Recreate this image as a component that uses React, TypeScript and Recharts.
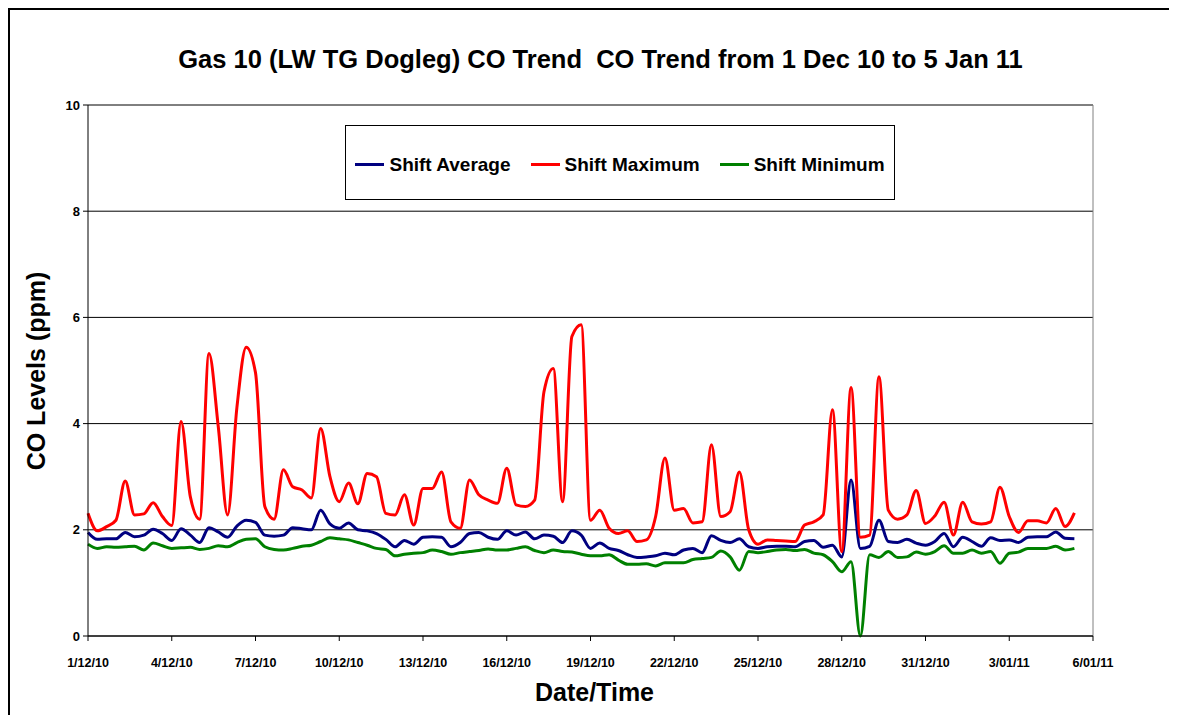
import { CartesianGrid, Line, LineChart, ReferenceLine, XAxis, YAxis } from 'recharts'

// one reading per 8-hour shift, starting 1/12/10
const shiftAverage = [
  1.95, 1.82, 1.83, 1.83, 1.95, 1.87, 1.9, 2.01, 1.93, 1.8, 2.02, 1.9, 1.76, 2.04, 1.96, 1.86, 2.07, 2.18,
  2.14, 1.9, 1.88, 1.9, 2.04, 2.02, 2.0, 2.37, 2.11, 2.03, 2.13, 2.0, 1.98, 1.93, 1.82, 1.68, 1.8, 1.73,
  1.86, 1.87, 1.86, 1.68, 1.76, 1.93, 1.95, 1.86, 1.82, 1.98, 1.9, 1.96, 1.83, 1.9, 1.88, 1.76, 1.98, 1.9,
  1.65, 1.75, 1.65, 1.61, 1.53, 1.48, 1.49, 1.51, 1.56, 1.53, 1.62, 1.65, 1.57, 1.89, 1.8, 1.76, 1.83, 1.68,
  1.65, 1.68, 1.69, 1.69, 1.68, 1.78, 1.8, 1.67, 1.71, 1.49, 2.94, 1.65, 1.69, 2.18, 1.78, 1.76, 1.82, 1.75,
  1.71, 1.78, 1.93, 1.68, 1.86, 1.78, 1.69, 1.85, 1.8, 1.81, 1.76, 1.86, 1.87, 1.87, 1.96, 1.84, 1.83,
]

const shiftMaximum = [
  2.31, 1.98, 2.06, 2.18, 2.92, 2.28, 2.3, 2.51, 2.25, 2.08, 4.04, 2.62, 2.2, 5.32, 3.94, 2.28, 4.3, 5.44,
  4.96, 2.44, 2.2, 3.13, 2.81, 2.75, 2.6, 3.91, 3.0, 2.53, 2.88, 2.49, 3.06, 3.0, 2.31, 2.28, 2.66, 2.09,
  2.78, 2.78, 3.09, 2.15, 2.03, 2.94, 2.66, 2.56, 2.5, 3.16, 2.47, 2.44, 2.56, 4.6, 5.04, 2.53, 5.64, 5.86,
  2.18, 2.37, 2.03, 1.93, 1.98, 1.78, 1.81, 2.25, 3.35, 2.37, 2.4, 2.13, 2.15, 3.6, 2.25, 2.34, 3.09, 2.0,
  1.73, 1.81, 1.8, 1.79, 1.78, 2.09, 2.15, 2.28, 4.26, 1.59, 4.68, 1.86, 1.9, 4.88, 2.37, 2.2, 2.28, 2.74,
  2.12, 2.26, 2.52, 1.9, 2.52, 2.15, 2.11, 2.15, 2.8, 2.25, 1.95, 2.17, 2.17, 2.13, 2.4, 2.06, 2.32,
]

const shiftMinimum = [
  1.73, 1.65, 1.68, 1.67, 1.68, 1.69, 1.62, 1.75, 1.7, 1.65, 1.66, 1.67, 1.63, 1.65, 1.7, 1.68, 1.76, 1.82,
  1.83, 1.68, 1.63, 1.62, 1.65, 1.69, 1.71, 1.78, 1.85, 1.83, 1.81, 1.76, 1.71, 1.65, 1.63, 1.51, 1.54, 1.56,
  1.57, 1.62, 1.59, 1.54, 1.57, 1.59, 1.61, 1.64, 1.62, 1.62, 1.65, 1.68, 1.61, 1.57, 1.62, 1.59, 1.58, 1.54,
  1.51, 1.51, 1.53, 1.43, 1.35, 1.35, 1.36, 1.32, 1.38, 1.38, 1.38, 1.44, 1.46, 1.48, 1.6, 1.49, 1.24, 1.59,
  1.57, 1.59, 1.62, 1.63, 1.61, 1.63, 1.56, 1.53, 1.4, 1.21, 1.4, 0.0, 1.53, 1.48, 1.59, 1.48, 1.49, 1.58,
  1.54, 1.59, 1.7, 1.56, 1.56, 1.62, 1.56, 1.59, 1.37, 1.56, 1.58, 1.65, 1.65, 1.65, 1.69, 1.62, 1.65,
]

// tick every 3 days = every 9 shifts
const dateLabels = [
  '1/12/10', '4/12/10', '7/12/10', '10/12/10', '13/12/10', '16/12/10', '19/12/10',
  '22/12/10', '25/12/10', '28/12/10', '31/12/10', '3/01/11', '6/01/11',
]
const xTicks = dateLabels.map((_, k) => k * 9)
const yTicks = [0, 2, 4, 6, 8, 10]

const rows = shiftAverage.map((avg, i) => ({
  shift: i,
  avg,
  max: shiftMaximum[i],
  min: shiftMinimum[i],
}))

const legendItems = [
  { name: 'Shift Average', color: '#000080' },
  { name: 'Shift Maximum', color: '#FF0000' },
  { name: 'Shift Minimum', color: '#008000' },
]

const font = '"Liberation Sans", Arial, sans-serif'

function App() {
  return (
    <div
      style={{
        position: 'relative',
        width: 1165,
        height: 707,
        boxSizing: 'border-box',
        border: '2px solid #000',
        borderBottom: 'none',
        fontFamily: font,
        background: '#fff',
        overflow: 'hidden',
      }}
    >
      <div
        style={{
          position: 'absolute',
          left: 10,
          top: 35,
          width: 1161,
          textAlign: 'center',
          fontSize: 25.5,
          lineHeight: '28px',
          fontWeight: 'bold',
          whiteSpace: 'pre',
        }}
      >
        {'Gas 10 (LW TG Dogleg) CO Trend  CO Trend from 1 Dec 10 to 5 Jan 11'}
      </div>

      <LineChart
        width={1161}
        height={697}
        data={rows}
        margin={{ top: 95, right: 78, bottom: 41, left: 0 }}
        style={{ position: 'absolute', left: 0, top: 0 }}
      >
        <CartesianGrid horizontal vertical={false} stroke="#000" />
        <XAxis
          dataKey="shift"
          type="number"
          domain={[0, 108]}
          ticks={xTicks}
          interval={0}
          tickFormatter={(v: number) => dateLabels[v / 9]}
          height={30}
          tickSize={5}
          tickMargin={17}
          axisLine={{ stroke: '#000' }}
          tickLine={{ stroke: '#000' }}
          tick={{ fill: '#000', fontSize: 12.5, fontWeight: 'bold', fontFamily: font }}
        />
        <YAxis
          type="number"
          domain={[0, 10]}
          ticks={yTicks}
          interval={0}
          width={78}
          tickSize={5}
          tickMargin={3}
          axisLine={{ stroke: '#000' }}
          tickLine={{ stroke: '#000' }}
          tick={{ fill: '#000', fontSize: 13, fontWeight: 'bold', fontFamily: font }}
        />
        <ReferenceLine x={108} stroke="#808080" />
        <Line type="monotone" dataKey="avg" name="Shift Average" stroke="#000080" strokeWidth={3} dot={false} isAnimationActive={false} />
        <Line type="monotone" dataKey="max" name="Shift Maximum" stroke="#FF0000" strokeWidth={3} dot={false} isAnimationActive={false} />
        <Line type="monotone" dataKey="min" name="Shift Minimum" stroke="#008000" strokeWidth={3} dot={false} isAnimationActive={false} />
      </LineChart>

      <div
        style={{
          position: 'absolute',
          left: 335,
          top: 115,
          width: 550,
          height: 75,
          boxSizing: 'border-box',
          border: '1px solid #000',
          background: '#fff',
          display: 'flex',
          alignItems: 'center',
          justifyContent: 'center',
          gap: 20,
          paddingTop: 4,
          fontSize: 19,
          fontWeight: 'bold',
        }}
      >
        {legendItems.map((item) => (
          <div key={item.name} style={{ display: 'flex', alignItems: 'center' }}>
            <span style={{ display: 'inline-block', width: 29, height: 3, background: item.color, marginRight: 5 }} />
            <span>{item.name}</span>
          </div>
        ))}
      </div>

      <div
        style={{
          position: 'absolute',
          left: 0,
          top: 668,
          width: 1161,
          paddingLeft: 8,
          boxSizing: 'border-box',
          textAlign: 'center',
          fontSize: 25,
          lineHeight: '28px',
          fontWeight: 'bold',
        }}
      >
        Date/Time
      </div>

      <div
        style={{
          position: 'absolute',
          left: 26,
          top: 361,
          transform: 'translate(-50%, -50%) rotate(-90deg)',
          fontSize: 25,
          lineHeight: '28px',
          fontWeight: 'bold',
          whiteSpace: 'nowrap',
        }}
      >
        CO Levels (ppm)
      </div>
    </div>
  )
}

export default App
